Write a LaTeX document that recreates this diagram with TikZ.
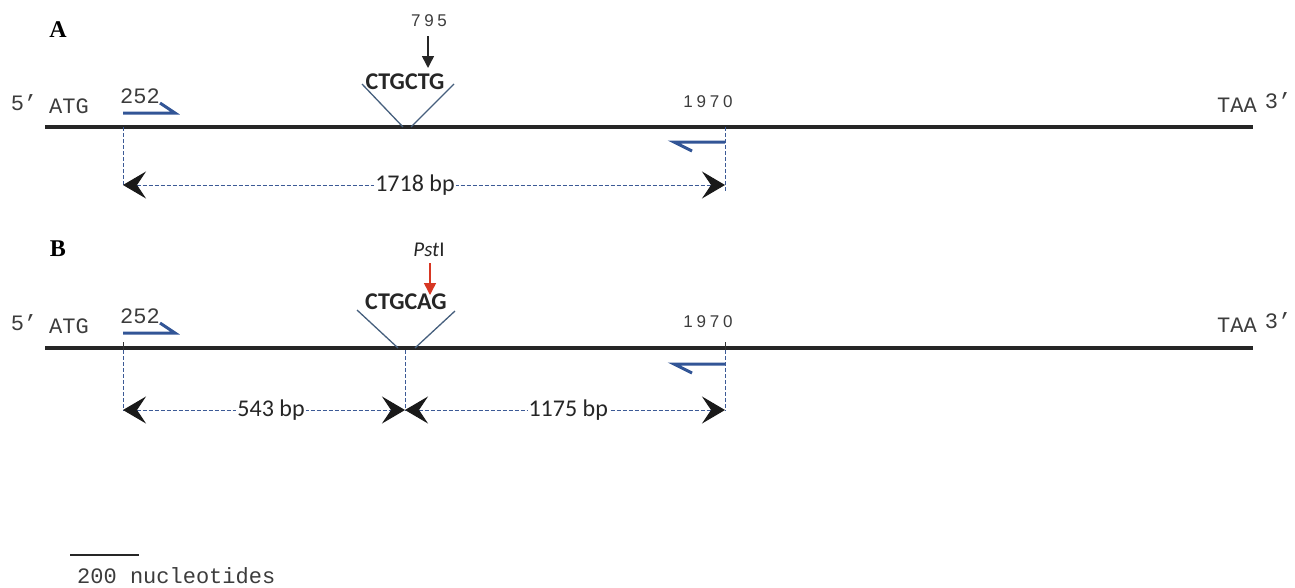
\documentclass[tikz,border=0pt]{standalone}
\usepackage{fontspec}
\setmainfont{Liberation Serif}
\newfontfamily\monofnt{Liberation Mono}
\newfontfamily\calfnt{Carlito}
\newfontfamily\spacedfnt[LetterSpace=22]{Liberation Sans}
\usetikzlibrary{arrows.meta}
\definecolor{vcol}{RGB}{70,95,125}
\definecolor{pcol}{RGB}{50,85,150}
\definecolor{gcol}{RGB}{60,90,150}
\definecolor{redarrow}{RGB}{215,55,35}
\definecolor{txtgray}{RGB}{60,60,60}
\begin{document}
\begin{tikzpicture}[x=1pt,y=-1pt,
  dna/.style={line width=3.2pt, black!85},
  vline/.style={line width=1.3pt, color=vcol},
  primer/.style={line width=3pt, color=pcol},
  guide/.style={line width=1pt, color=gcol, dash pattern=on 4pt off 2pt},
  dimtip/.tip={Stealth[length=23pt,width=27pt,inset=9pt,color=black!90]},
  dim/.style={guide, dimtip-dimtip},
  panel/.style={font=\bfseries\fontsize{24}{24}\selectfont, inner sep=0pt},
  mono/.style={font=\monofnt\fontsize{22}{22}\selectfont, inner sep=0pt, text=txtgray},
  num/.style={font=\spacedfnt\fontsize{17}{17}\selectfont, inner sep=0pt, text=txtgray},
  seq/.style={font=\calfnt\bfseries\fontsize{24}{24}\selectfont, inner sep=0pt, text=black!85},
  bp/.style={font=\calfnt\fontsize{24}{24}\selectfont, fill=white, inner xsep=1pt, inner ysep=0pt, text=black!85},
  site/.style={-{Triangle[length=12pt,width=12pt]}, line width=1.5pt}
]
\useasboundingbox (0,0) rectangle (1295,587);

% ================= Panel A =================
\node[panel] (labA) at (58,30) {A};
\node[mono] (fiveA) at (24,103) {5\textquoteright};
\node[mono] (atgA) at (69,106) {ATG};
\node[mono] (taaA) at (1237,105) {TAA};
\node[mono] (threeA) at (1278,101) {3\textquoteright};
\node[mono] (n252A) at (140,96) {252};
\node[num] (n1970A) at (708,102) {1970};
\node[num] (n795) at (429,21) {795};
\node[seq] (seqA) at (405,82) {CTGCTG};

\coordinate (Astart) at (45,127);
\coordinate (Aend) at (1253,127);
\draw[dna] (Astart) -- (Aend);

% insertion V
\coordinate (AvL1) at (362,84);
\coordinate (AvL2) at (403,127);
\coordinate (AvR1) at (411,127);
\coordinate (AvR2) at (454,84);
\draw[vline] (AvL1) -- (AvL2);
\draw[vline] (AvR1) -- (AvR2);

% arrow 795
\coordinate (a795t) at (428,36);
\coordinate (a795b) at (428,68);
\draw[site, black!85] (a795t) -- (a795b);

% primers
\coordinate (pAf1) at (123,113);
\coordinate (pAf2) at (175,113);
\coordinate (pAf3) at (160,103);
\draw[primer] (pAf1) -- (pAf2) -- (pAf3);
\coordinate (pAr1) at (725,142);
\coordinate (pAr2) at (674,142);
\coordinate (pAr3) at (692,151);
\draw[primer] (pAr1) -- (pAr2) -- (pAr3);

% guides
\coordinate (gA1t) at (123,127);
\coordinate (gA1b) at (123,186);
\coordinate (gA2t) at (725,127);
\coordinate (gA2b) at (725,192);
\draw[guide] (gA1t) -- (gA1b);
\draw[guide] (gA2t) -- (gA2b);
\coordinate (dA1) at (123,185);
\coordinate (dA2) at (725,185);
\draw[dim] (dA1) -- node[bp, pos=0.485] (bpA) {1718 bp} (dA2);

% ================= Panel B =================
\node[panel] (labB) at (58,249) {B};
\node[mono] (fiveB) at (24,323) {5\textquoteright};
\node[mono] (atgB) at (69,326) {ATG};
\node[mono] (taaB) at (1237,325) {TAA};
\node[mono] (threeB) at (1278,321) {3\textquoteright};
\node[mono] (n252B) at (140,316) {252};
\node[num] (n1970B) at (708,322) {1970};
\node[font=\calfnt\fontsize{21}{21}\selectfont, inner sep=0pt, text=black!85] (pst) at (429,250) {\textit{Pst}I};
\node[seq] (seqB) at (406,302) {CTGCAG};

\coordinate (Bstart) at (45,348);
\coordinate (Bend) at (1253,348);
\draw[dna] (Bstart) -- (Bend);

\coordinate (BvL1) at (357,310);
\coordinate (BvL2) at (398,348);
\coordinate (BvR1) at (415,348);
\coordinate (BvR2) at (455,311);
\draw[vline] (BvL1) -- (BvL2);
\draw[vline] (BvR1) -- (BvR2);

\coordinate (apt) at (430,263);
\coordinate (apb) at (430,295);
\draw[site, redarrow] (apt) -- (apb);

\coordinate (pBf1) at (123,333);
\coordinate (pBf2) at (175,333);
\coordinate (pBf3) at (160,323);
\draw[primer] (pBf1) -- (pBf2) -- (pBf3);
\coordinate (pBr1) at (725,364);
\coordinate (pBr2) at (674,364);
\coordinate (pBr3) at (692,373);
\draw[primer] (pBr1) -- (pBr2) -- (pBr3);

% ticks
\coordinate (tB1t) at (123,342);
\coordinate (tB1b) at (123,352);
\draw[line width=1pt, black!80] (tB1t) -- (tB1b);
\coordinate (tB3t) at (725,342);
\coordinate (tB3b) at (725,352);
\draw[line width=1pt, black!80] (tB3t) -- (tB3b);

\coordinate (gB1t) at (123,350);
\coordinate (gB1b) at (123,411);
\coordinate (gB2t) at (405,350);
\coordinate (gB2b) at (405,411);
\coordinate (gB3t) at (725,350);
\coordinate (gB3b) at (725,411);
\draw[guide] (gB1t) -- (gB1b);
\draw[guide] (gB2t) -- (gB2b);
\draw[guide] (gB3t) -- (gB3b);
\coordinate (dB1) at (123,410);
\coordinate (dB2) at (405,410);
\coordinate (dB3) at (725,410);
\draw[dim] (dB1) -- node[bp, pos=0.525] (bpB1) {543 bp} (dB2);
\draw[dim] (dB2) -- node[bp, pos=0.51] (bpB2) {1175 bp} (dB3);

% ================= scale bar =================
\coordinate (sb1) at (70,555);
\coordinate (sb2) at (139,555);
\draw[line width=2.5pt, black!85] (sb1) -- (sb2);
\node[mono, anchor=west] (sbl) at (77,576) {200 nucleotides};
\end{tikzpicture}
\end{document}
